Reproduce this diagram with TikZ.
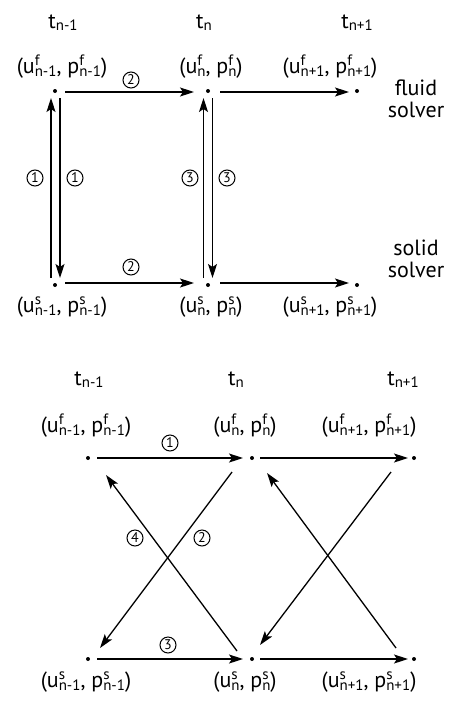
\documentclass[tikz,border=0pt]{standalone}
\usepackage{fontspec}
\setmainfont{PT Sans}
\usetikzlibrary{arrows.meta}
\newcommand\ssz{\fontsize{15}{15}\selectfont}
\newcommand\spsb[2]{\makebox[0pt][l]{\raisebox{8pt}{\ssz #1}}\raisebox{-3.5pt}{\ssz #2}}
\newcommand\tsb[1]{\raisebox{-2pt}{\ssz #1}}
\tikzset{
  lbl/.style={anchor=base, font=\fontsize{22}{24}\selectfont, inner sep=0pt},
  side/.style={align=center, font=\fontsize{22}{22}\selectfont, inner sep=0pt},
  dotn/.style={circle, fill=black, inner sep=0pt, minimum size=4pt},
  arr/.style={line width=1.3pt, -{Stealth[length=14pt,width=9pt,inset=3pt]}},
  circ/.style={circle, draw, line width=1pt, minimum size=16pt, inner sep=0pt, font=\fontsize{14}{14}\selectfont},
}
\begin{document}
\begin{tikzpicture}[x=1pt,y=-1pt]
\useasboundingbox (0,0) rectangle (448,702);
% ---------- top diagram ----------
\node[lbl] (ta1) at (63,28) {t\tsb{n-1}};
\node[lbl] (ta2) at (204,28) {t\tsb{n}};
\node[lbl] (ta3) at (357,28) {t\tsb{n+1}};
\node[lbl] (la1) at (62,73) {(u\spsb{f}{n-1}, p\spsb{f}{n-1})};
\node[lbl] (la2) at (211,73) {(u\spsb{f}{n}, p\spsb{f}{n})};
\node[lbl] (la3) at (330,73) {(u\spsb{f}{n+1}, p\spsb{f}{n+1})};
\node[lbl] (lb1) at (62,312) {(u\spsb{s}{n-1}, p\spsb{s}{n-1})};
\node[lbl] (lb2) at (211,312) {(u\spsb{s}{n}, p\spsb{s}{n})};
\node[lbl] (lb3) at (330,312) {(u\spsb{s}{n+1}, p\spsb{s}{n+1})};
\node[side] (fs) at (416,99) {fluid\\solver};
\node[side] (ss) at (416,259) {solid\\solver};
\node[dotn] (f1) at (55,91) {};
\node[dotn] (f2) at (208,91) {};
\node[dotn] (f3) at (357,91) {};
\node[dotn] (s1) at (55,285) {};
\node[dotn] (s2) at (208,285) {};
\node[dotn] (s3) at (357,285) {};
\draw[arr] ([xshift=10pt,yshift=-1pt]f1.center) -- ([xshift=-14pt,yshift=-1pt]f2.center);
\draw[arr] ([xshift=12pt,yshift=-1pt]f2.center) -- ([xshift=-8pt,yshift=-1pt]f3.center);
\draw[arr] ([xshift=10pt,yshift=2pt]s1.center) -- ([xshift=-14pt,yshift=2pt]s2.center);
\draw[arr] ([xshift=12pt,yshift=2pt]s2.center) -- ([xshift=-8pt,yshift=2pt]s3.center);
\draw[arr] ([xshift=-4pt,yshift=7pt]s1.center) -- ([xshift=-4pt,yshift=-7pt]f1.center);
\draw[arr] ([xshift=5pt,yshift=-7pt]f1.center) -- ([xshift=5pt,yshift=7pt]s1.center);
\draw[arr] ([xshift=-4.5pt,yshift=7pt]s2.center) -- ([xshift=-4.5pt,yshift=-7pt]f2.center);
\draw[arr] ([xshift=4.5pt,yshift=-7pt]f2.center) -- ([xshift=4.5pt,yshift=7pt]s2.center);
\node[circ] (c1) at (131,80) {2};
\node[circ] (c2) at (131,267) {2};
\node[circ] (c3) at (35,178) {1};
\node[circ] (c4) at (75,178) {1};
\node[circ] (c5) at (190,178) {3};
\node[circ] (c6) at (227,178) {3};
% ---------- bottom diagram ----------
\node[lbl] (tb1) at (89,385) {t\tsb{n-1}};
\node[lbl] (tb2) at (236,385) {t\tsb{n}};
\node[lbl] (tb3) at (403,385) {t\tsb{n+1}};
\node[lbl] (ma1) at (86,432) {(u\spsb{f}{n-1}, p\spsb{f}{n-1})};
\node[lbl] (ma2) at (245,432) {(u\spsb{f}{n}, p\spsb{f}{n})};
\node[lbl] (ma3) at (369,432) {(u\spsb{f}{n+1}, p\spsb{f}{n+1})};
\node[lbl] (mb1) at (86,687) {(u\spsb{s}{n-1}, p\spsb{s}{n-1})};
\node[lbl] (mb2) at (245,687) {(u\spsb{s}{n}, p\spsb{s}{n})};
\node[lbl] (mb3) at (369,687) {(u\spsb{s}{n+1}, p\spsb{s}{n+1})};
\node[dotn] (g1) at (88,458) {};
\node[dotn] (g2) at (252,458) {};
\node[dotn] (g3) at (414,458) {};
\node[dotn] (h1) at (88,659) {};
\node[dotn] (h2) at (252,659) {};
\node[dotn] (h3) at (414,659) {};
\draw[arr] ([xshift=9pt]g1.center) -- ([xshift=-9pt]g2.center);
\draw[arr] ([xshift=8pt]g2.center) -- ([xshift=-6pt]g3.center);
\draw[arr] ([xshift=9pt]h1.center) -- ([xshift=-9pt]h2.center);
\draw[arr] ([xshift=8pt]h2.center) -- ([xshift=-6pt]h3.center);
\coordinate (a1) at (232,472);
\coordinate (a2) at (100,648);
\coordinate (b1) at (237,651);
\coordinate (b2) at (106,475);
\coordinate (a3) at (391,472);
\coordinate (a4) at (260,645);
\coordinate (b3) at (396,648);
\coordinate (b4) at (267,473);
\draw[arr] (a1) -- (a2);
\draw[arr] (b1) -- (b2);
\draw[arr] (a3) -- (a4);
\draw[arr] (b3) -- (b4);
\node[circ] (d1) at (170,443) {1};
\node[circ] (d2) at (202,538) {2};
\node[circ] (d3) at (168,645) {3};
\node[circ] (d4) at (135,538) {4};
\end{tikzpicture}
\end{document}
